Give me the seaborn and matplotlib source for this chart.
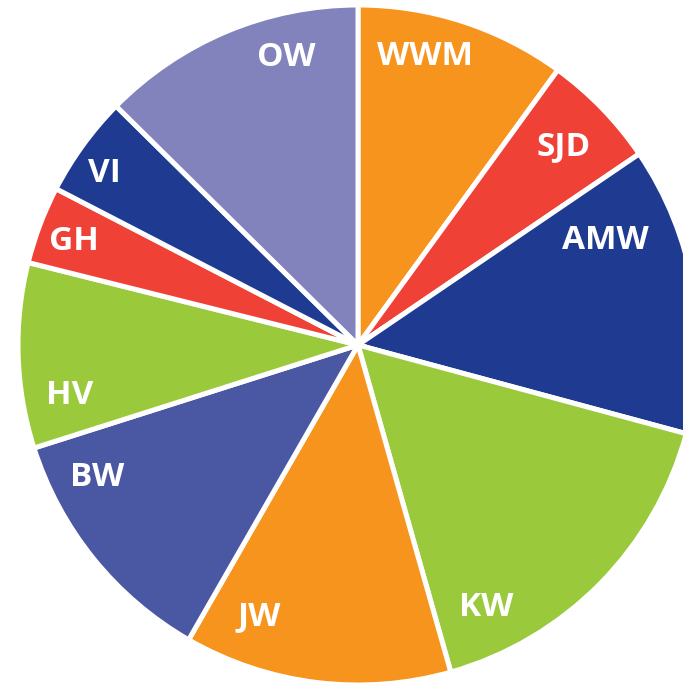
import numpy as np
import matplotlib
matplotlib.use("Agg")
import matplotlib.pyplot as plt
import seaborn as sns

# slice data (percent share), clockwise from 12 o'clock
labels = ["WWM", "SJD", "AMW", "KW", "JW", "BW", "HV", "GH", "VI", "OW"]
shares = [10.0, 5.5, 13.7, 16.4, 12.7, 11.8, 8.8, 3.7, 4.8, 12.6]
colors = ["#F7941D", "#EF4136", "#1F3B91", "#9ACA3C", "#F7941D",
          "#4A57A2", "#9ACA3C", "#EF4136", "#1F3B91", "#8283BD"]

# label placement (angle clockwise from top in degrees, radius)
label_angle = [13, 46, 67, 154, 200, 243, 260, 290, 304, 346]
label_radius = [0.87, 0.84, 0.79, 0.86, 0.85, 0.86, 0.86, 0.89, 0.90, 0.87]

sns.set_theme(style="white")
plt.rcParams["font.family"] = ["Open Sans", "DejaVu Sans"]

fig = plt.figure(figsize=(6.83, 6.88), dpi=100)
ax = fig.add_axes([0, 0, 1, 1])
ax.pie(shares, colors=colors, startangle=90, counterclock=False,
       wedgeprops=dict(edgecolor="white", linewidth=3.6))

for lab, a, r in zip(labels, label_angle, label_radius):
    t = np.deg2rad(a)
    ax.text(r * np.sin(t), r * np.cos(t), lab, color="white",
            fontsize=24, fontweight="bold", ha="center", va="center")

ax.set_xlim(-358 / 340, 325 / 340)
ax.set_ylim(-343 / 340, 345 / 340)
ax.set_aspect("auto")
ax.axis("off")

fig.savefig("out.png", dpi=100)
